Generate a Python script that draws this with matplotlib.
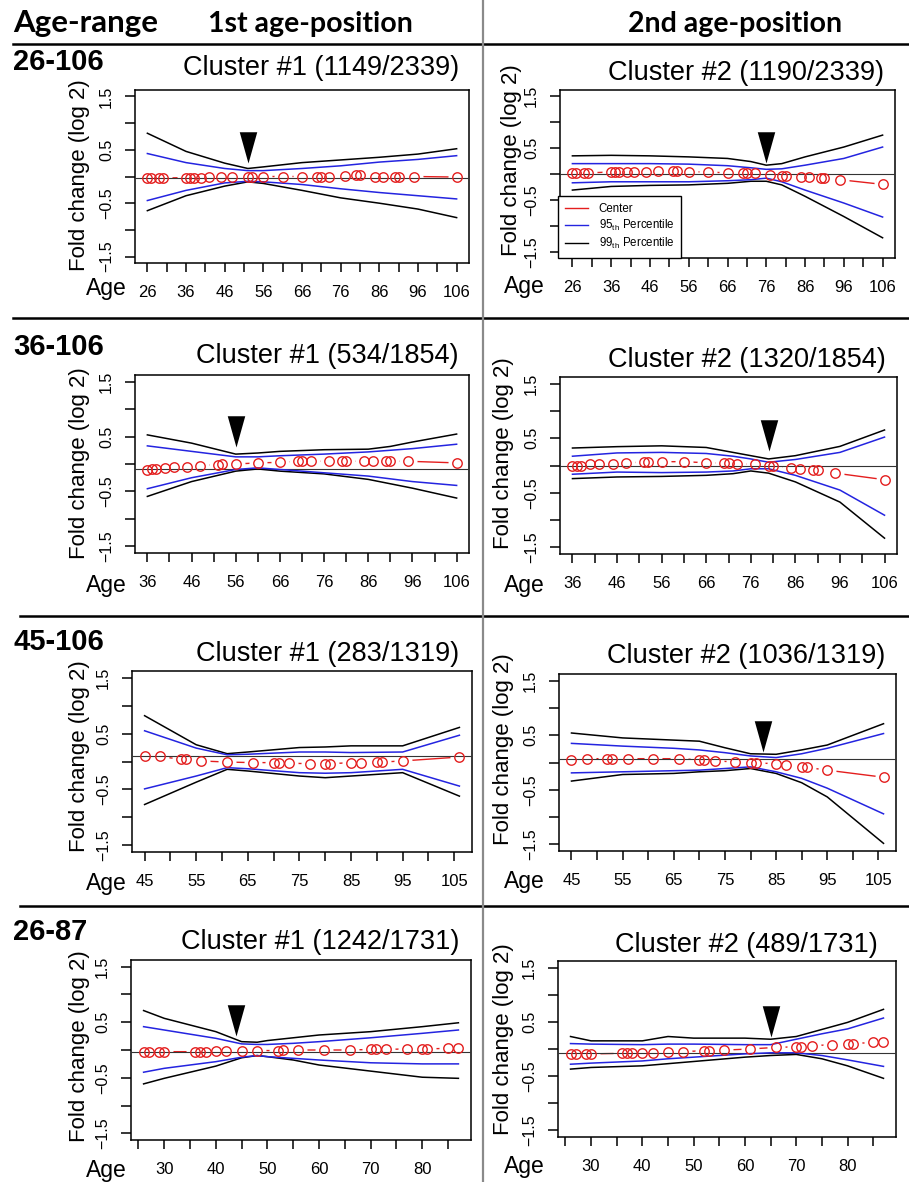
import matplotlib
matplotlib.use('Agg')
import matplotlib.pyplot as plt
from matplotlib import font_manager
from matplotlib.path import Path
from matplotlib.lines import Line2D

W, H = 909, 1182

def has_font(name):
    try:
        font_manager.findfont(name, fallback_to_default=False)
        return True
    except Exception:
        return False

SANS = 'Liberation Sans' if has_font('Liberation Sans') else 'DejaVu Sans'
NARROW = 'Liberation Sans Narrow' if has_font('Liberation Sans Narrow') else SANS
HEAD = 'Lato' if has_font('Lato') else SANS

plt.rcParams['font.family'] = [SANS, 'DejaVu Sans']
plt.rcParams['mathtext.fontset'] = 'custom'
plt.rcParams['mathtext.rm'] = SANS
plt.rcParams['axes.unicode_minus'] = True

# ---------------- data ----------------
ages_26_106 = [26, 27, 29, 30, 36, 37, 38, 40, 42, 45, 48, 52, 53, 56, 61, 66,
               70, 71, 73, 77, 80, 81, 85, 87, 90, 91, 95, 106]
ages_36_106 = [a for a in ages_26_106 if a >= 36]
ages_45_106 = [a for a in ages_26_106 if a >= 45]
ages_26_87 = [a for a in ages_26_106 if a <= 87]

row_labels = ['26-106', '36-106', '45-106', '26-87']
titles = ['Cluster #1 (1149/2339)', 'Cluster #2 (1190/2339)',
          'Cluster #1 (534/1854)', 'Cluster #2 (1320/1854)',
          'Cluster #1 (283/1319)', 'Cluster #2 (1036/1319)',
          'Cluster #1 (1242/1731)', 'Cluster #2 (489/1731)']

# Panel 1: 26-106, 1st position
p1_center = [-0.03, -0.03, -0.03, -0.03, -0.02, -0.02, -0.02, -0.02, -0.01, -0.01, -0.01, 0.0, 0.0, 0.0,
             0.0, 0.0, 0.0, 0.0, 0.0, 0.01, 0.02, 0.02, 0.0, 0.0, 0.0, 0.0, 0.0, -0.01]
p1_band_age = [26, 36, 46, 52, 56, 66, 76, 86, 96, 106]
p1_hi99 = [0.81, 0.47, 0.25, 0.15, 0.18, 0.26, 0.31, 0.36, 0.42, 0.52]
p1_hi95 = [0.43, 0.26, 0.15, 0.11, 0.11, 0.15, 0.20, 0.27, 0.32, 0.39]
p1_lo95 = [-0.45, -0.26, -0.12, -0.09, -0.10, -0.15, -0.23, -0.30, -0.36, -0.42]
p1_lo99 = [-0.64, -0.36, -0.18, -0.10, -0.13, -0.26, -0.40, -0.50, -0.61, -0.77]

# Panel 2: 26-106, 2nd position
p2_center = [0.01, 0.01, 0.02, 0.02, 0.04, 0.04, 0.04, 0.04, 0.04, 0.04, 0.06, 0.06, 0.06, 0.04,
             0.04, 0.02, 0.02, 0.02, 0.01, -0.01, -0.03, -0.03, -0.05, -0.06, -0.08, -0.08, -0.11, -0.20]
p2_band_age = [26, 36, 46, 56, 66, 72, 76, 80, 86, 96, 106]
p2_hi99 = [0.35, 0.36, 0.35, 0.33, 0.30, 0.24, 0.17, 0.20, 0.33, 0.52, 0.75]
p2_hi95 = [0.20, 0.20, 0.20, 0.19, 0.16, 0.12, 0.09, 0.10, 0.17, 0.30, 0.52]
p2_lo95 = [-0.17, -0.15, -0.15, -0.15, -0.13, -0.11, -0.08, -0.15, -0.31, -0.56, -0.83]
p2_lo99 = [-0.31, -0.24, -0.22, -0.21, -0.18, -0.14, -0.14, -0.21, -0.43, -0.82, -1.23]

# Panel 3: 36-106, 1st position
p3_center = [-0.115, -0.10, -0.10, -0.07, -0.055, -0.055, -0.03, -0.01, 0.0, 0.0, 0.02, 0.03,
             0.05, 0.05, 0.05, 0.05, 0.05, 0.05, 0.05, 0.05, 0.05, 0.05, 0.05, 0.02]
p3_band_age = [36, 46, 56, 61, 66, 76, 86, 91, 96, 106]
p3_hi99 = [0.53, 0.38, 0.18, 0.20, 0.23, 0.26, 0.27, 0.32, 0.40, 0.545]
p3_hi95 = [0.33, 0.23, 0.13, 0.13, 0.15, 0.18, 0.22, 0.25, 0.28, 0.36]
p3_lo95 = [-0.45, -0.25, -0.10, -0.07, -0.10, -0.16, -0.22, -0.27, -0.32, -0.39]
p3_lo99 = [-0.59, -0.32, -0.13, -0.09, -0.13, -0.18, -0.28, -0.36, -0.44, -0.62]

# Panel 4: 36-106, 2nd position
p4_center = [0.0, 0.0, 0.0, 0.02, 0.02, 0.03, 0.05, 0.06, 0.06, 0.07, 0.07, 0.05, 0.04, 0.04,
             0.03, 0.02, 0.0, -0.01, -0.04, -0.06, -0.09, -0.09, -0.14, -0.26]
p4_band_age = [36, 46, 56, 66, 72, 76, 80, 86, 96, 106]
p4_hi99 = [0.32, 0.345, 0.36, 0.33, 0.24, 0.18, 0.12, 0.18, 0.35, 0.65]
p4_hi95 = [0.17, 0.23, 0.24, 0.22, 0.17, 0.12, 0.06, 0.11, 0.24, 0.52]
p4_lo95 = [-0.16, -0.12, -0.13, -0.12, -0.10, -0.06, -0.06, -0.18, -0.45, -0.91]
p4_lo99 = [-0.24, -0.21, -0.20, -0.18, -0.15, -0.10, -0.14, -0.30, -0.67, -1.33]

# Panel 5: 45-106, 1st position
p5_center = [0.10, 0.09, 0.04, 0.04, 0.01, -0.01, -0.02, -0.02, -0.03, -0.03, -0.04, -0.04,
             -0.04, -0.02, -0.02, -0.01, -0.01, 0.01, 0.08]
p5_band_age = [45, 55, 61, 65, 75, 80, 85, 95, 106]
p5_hi99 = [0.82, 0.30, 0.14, 0.17, 0.25, 0.26, 0.28, 0.28, 0.61]
p5_hi95 = [0.55, 0.24, 0.12, 0.13, 0.17, 0.17, 0.16, 0.17, 0.47]
p5_lo95 = [-0.49, -0.26, -0.11, -0.13, -0.20, -0.21, -0.20, -0.14, -0.44]
p5_lo99 = [-0.77, -0.37, -0.14, -0.17, -0.26, -0.29, -0.26, -0.20, -0.62]

# Panel 6: 45-106, 2nd position
p6_center = [0.05, 0.07, 0.07, 0.07, 0.07, 0.07, 0.07, 0.05, 0.05, 0.03, 0.01, 0.0, -0.01,
             -0.02, -0.04, -0.08, -0.09, -0.14, -0.27]
p6_band_age = [45, 55, 65, 70, 75, 80, 85, 90, 95, 106]
p6_hi99 = [0.54, 0.45, 0.41, 0.39, 0.27, 0.16, 0.15, 0.23, 0.32, 0.71]
p6_hi95 = [0.35, 0.30, 0.26, 0.23, 0.18, 0.12, 0.09, 0.16, 0.26, 0.53]
p6_lo95 = [-0.19, -0.17, -0.15, -0.14, -0.11, -0.08, -0.17, -0.29, -0.47, -0.94]
p6_lo99 = [-0.34, -0.22, -0.20, -0.17, -0.15, -0.11, -0.20, -0.37, -0.63, -1.48]

# Panel 7: 26-87, 1st position
p7_center = [-0.03, -0.03, -0.03, -0.03, -0.03, -0.03, -0.03, -0.02, -0.02, -0.01, -0.01, -0.01,
             0.0, 0.0, 0.0, 0.0, 0.01, 0.01, 0.01, 0.02, 0.02, 0.02, 0.03, 0.03]
p7_band_age = [26, 30, 40, 45, 48, 50, 55, 60, 70, 80, 87]
p7_hi99 = [0.71, 0.57, 0.33, 0.15, 0.14, 0.17, 0.22, 0.27, 0.33, 0.42, 0.49]
p7_hi95 = [0.42, 0.36, 0.21, 0.11, 0.10, 0.10, 0.12, 0.15, 0.22, 0.30, 0.36]
p7_lo95 = [-0.40, -0.33, -0.21, -0.13, -0.10, -0.12, -0.15, -0.18, -0.23, -0.25, -0.25]
p7_lo99 = [-0.61, -0.51, -0.29, -0.14, -0.10, -0.12, -0.18, -0.27, -0.38, -0.49, -0.51]

# Panel 8: 26-87, 2nd position
p8_center = [-0.09, -0.09, -0.09, -0.09, -0.08, -0.08, -0.08, -0.07, -0.07, -0.06, -0.05, -0.03,
             -0.03, -0.02, 0.0, 0.03, 0.04, 0.04, 0.06, 0.08, 0.10, 0.10, 0.12, 0.135]
p8_band_age = [26, 30, 40, 45, 50, 60, 65, 70, 75, 80, 87]
p8_hi99 = [0.23, 0.15, 0.15, 0.23, 0.20, 0.20, 0.18, 0.23, 0.36, 0.49, 0.73]
p8_hi95 = [0.10, 0.09, 0.08, 0.09, 0.09, 0.08, 0.08, 0.18, 0.28, 0.37, 0.57]
p8_lo95 = [-0.28, -0.26, -0.22, -0.18, -0.15, -0.09, -0.07, -0.07, -0.12, -0.20, -0.32]
p8_lo99 = [-0.37, -0.34, -0.31, -0.27, -0.23, -0.15, -0.12, -0.10, -0.18, -0.31, -0.54]

# reference horizontal line level in each panel
hline_levels = [-0.02, 0.0, -0.10, 0.0, 0.10, 0.07, -0.03, -0.075]
# arrowhead (age, tip value) per panel; None = no arrow
arrow_age = [52, 76, 56, 80, None, 82.5, 44, 65]
arrow_tip = [0.25, 0.205, 0.31, 0.27, None, 0.19, 0.25, 0.23]

panels = [
    (ages_26_106, p1_center, p1_band_age, p1_hi99, p1_hi95, p1_lo95, p1_lo99),
    (ages_26_106, p2_center, p2_band_age, p2_hi99, p2_hi95, p2_lo95, p2_lo99),
    (ages_36_106, p3_center, p3_band_age, p3_hi99, p3_hi95, p3_lo95, p3_lo99),
    (ages_36_106, p4_center, p4_band_age, p4_hi99, p4_hi95, p4_lo95, p4_lo99),
    (ages_45_106, p5_center, p5_band_age, p5_hi99, p5_hi95, p5_lo95, p5_lo99),
    (ages_45_106, p6_center, p6_band_age, p6_hi99, p6_hi95, p6_lo95, p6_lo99),
    (ages_26_87, p7_center, p7_band_age, p7_hi99, p7_hi95, p7_lo95, p7_lo99),
    (ages_26_87, p8_center, p8_band_age, p8_hi99, p8_hi95, p8_lo95, p8_lo99),
]

# x ticks (every 5) and labelled ticks (every 10)
tick_start = [26, 26, 36, 36, 45, 45, 25, 25]
tick_end = [106, 106, 106, 106, 105, 105, 85, 85]
label_start = [26, 26, 36, 36, 45, 45, 30, 30]

# ---------------- layout (pixels) ----------------
boxes = [(135, 469, 90, 263), (560, 895, 90, 258),
         (135, 469, 375, 553), (560, 897, 377, 554),
         (132, 472, 671, 852), (559, 896, 674, 851),
         (131, 471, 960, 1140), (558, 896, 961, 1137)]
title_base = [75, 80, 363, 367, 661, 663, 949, 952]
ylab_pos = [(80, 175), (511, 160), (80, 463), (504, 453),
            (80, 756), (503, 749), (80, 1046), (503, 1039)]
age_pos = [(127, 295), (545, 293), (127, 592), (545, 592),
           (127, 890), (545, 888), (127, 1177), (545, 1173)]
row_base = [70, 355, 650, 940]

RED = '#e41e1e'
BLUE = '#2424e0'

fig = plt.figure(figsize=(W / 100, H / 100), dpi=100)

def fx(x):
    return x / W

def fy(y):
    return 1 - y / H

arrow_marker = Path([(0, 0), (-0.28, 1), (0.28, 1), (0, 0)],
                    [Path.MOVETO, Path.LINETO, Path.LINETO, Path.CLOSEPOLY])

for i, (ages, center, bage, hi99, hi95, lo95, lo99) in enumerate(panels):
    x0, x1, yt, yb = boxes[i]
    ax = fig.add_axes([fx(x0), fy(yb), (x1 - x0) / W, (yb - yt) / H])
    lo, hi = min(ages), max(ages)
    pad = 0.04 * (hi - lo)
    ax.set_xlim(lo - pad, hi + pad)
    ax.set_ylim(-1.62, 1.62)

    # centre line with R type="b" gaps
    ax.plot(ages, center, color=RED, lw=1.0, zorder=2)
    ax.plot(ages, center, ls='none', marker='o', ms=13, mfc='white', mec='none', zorder=2.5)
    ax.axhline(hline_levels[i], color='#333333', lw=0.8, zorder=3)
    ax.plot(bage, hi99, color='black', lw=1.1, zorder=3)
    ax.plot(bage, lo99, color='black', lw=1.1, zorder=3)
    ax.plot(bage, hi95, color=BLUE, lw=1.1, zorder=3.1)
    ax.plot(bage, lo95, color=BLUE, lw=1.1, zorder=3.1)
    ax.plot(ages, center, ls='none', marker='o', ms=6.8, mfc='none', mec=RED, mew=1.0, zorder=4)

    if arrow_age[i] is not None:
        ax.plot([arrow_age[i]], [arrow_tip[i]], marker=arrow_marker, ms=45,
                color='black', mec='black', mew=0, ls='none', zorder=6, clip_on=False)

    xt = list(range(tick_start[i], tick_end[i] + 1, 5))
    ax.set_xticks(xt)
    ax.set_xticklabels([str(t) if (t - label_start[i]) % 10 == 0 else '' for t in xt],
                       fontfamily=NARROW, fontsize=12)
    yt_vals = [-1.5, -1.0, -0.5, 0.0, 0.5, 1.0, 1.5]
    ax.set_yticks(yt_vals)
    ax.set_yticklabels(['\u22121.5', '', '\u22120.5', '', '0.5', '', '1.5'],
                       rotation=90, va='center', fontsize=11.5)
    ax.tick_params(axis='x', direction='out', length=6.5, width=1.1, pad=9)
    ax.tick_params(axis='y', direction='out', length=7, width=1.1, pad=8)
    for s in ax.spines.values():
        s.set_linewidth(1.1)

    if i == 1:
        handles = [Line2D([], [], color=RED, lw=1), Line2D([], [], color=BLUE, lw=1),
                   Line2D([], [], color='black', lw=1)]
        labels = ['Center', '95$_{\\rm th}$ Percentile', '99$_{\\rm th}$ Percentile']
        leg = ax.legend(handles, labels, loc='lower left', bbox_to_anchor=(-0.005, 0.0),
                        borderaxespad=0, fontsize=8.3, frameon=True, fancybox=False,
                        edgecolor='black', framealpha=1, handlelength=2.0,
                        handletextpad=0.9, labelspacing=0.25, borderpad=0.6)
        leg.get_frame().set_linewidth(1.0)
        leg.set_zorder(7)

    # titles
    if i % 2 == 0:
        fig.text(fx(459), fy(title_base[i]), titles[i], ha='right', va='baseline', fontsize=19.5)
    else:
        fig.text(fx(746.5), fy(title_base[i]), titles[i], ha='center', va='baseline', fontsize=19.5)
    # y label
    lx, ly = ylab_pos[i]
    fig.text(fx(lx), fy(ly), 'Fold change (log 2)', rotation=90, ha='center', va='center',
             fontsize=16)
    # Age label
    axp, ayp = age_pos[i]
    fig.text(fx(axp), fy(ayp), 'Age', ha='right', va='baseline', fontsize=16.5)

# header
fig.text(fx(13), fy(32), 'Age-range', fontfamily=HEAD, fontweight='bold', fontsize=22.5,
         ha='left', va='baseline')
fig.text(fx(310.5), fy(32), '1st age-position', fontfamily=HEAD, fontweight='bold',
         fontsize=20.5, ha='center', va='baseline')
fig.text(fx(735), fy(32), '2nd age-position', fontfamily=HEAD, fontweight='bold',
         fontsize=20.5, ha='center', va='baseline')

for r, lab in enumerate(row_labels):
    fig.text(fx(13), fy(row_base[r]), lab, fontweight='bold', fontsize=21, ha='left',
             va='baseline')

# separators
fig.add_artist(Line2D([fx(13), 1], [fy(43.5)] * 2, color='black', lw=1.8))
fig.add_artist(Line2D([fx(13), 1], [fy(317.5)] * 2, color='black', lw=1.8))
fig.add_artist(Line2D([fx(20), 1], [fy(616)] * 2, color='black', lw=1.8))
fig.add_artist(Line2D([fx(20), 1], [fy(906)] * 2, color='black', lw=1.8))
fig.add_artist(Line2D([fx(483)] * 2, [0, 1], color='#8a8a8a', lw=1.6))

fig.savefig('out.png', dpi=100)
